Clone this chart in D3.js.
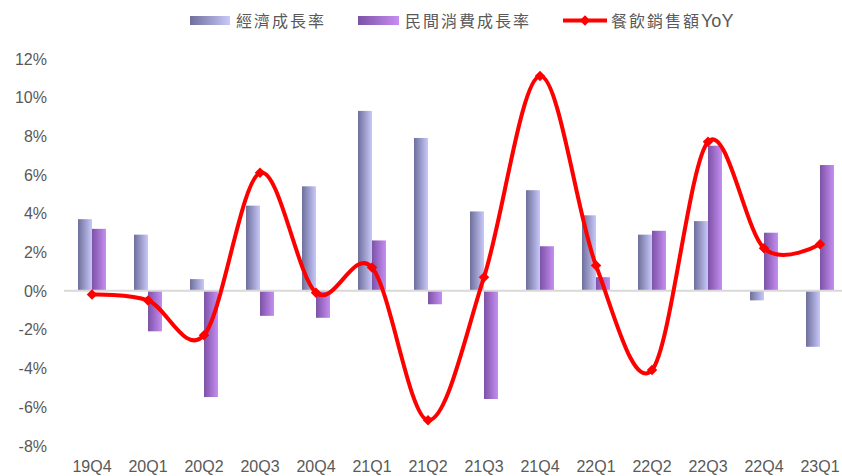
<!DOCTYPE html>
<html>
<head>
<meta charset="utf-8">
<script src="https://cdn.jsdelivr.net/npm/d3@7/dist/d3.min.js"></script>
<style>
  html, body { margin: 0; padding: 0; background: #fff; }
  svg { display: block; }
</style>
</head>
<body>
<svg id="chart" width="842" height="476"></svg>
<script>
// Quarterly growth rates (%)
const quarters = ["19Q4","20Q1","20Q2","20Q3","20Q4","21Q1","21Q2","21Q3","21Q4","22Q1","22Q2","22Q3","22Q4","23Q1"];
const gdpGrowth = [3.7, 2.9, 0.6, 4.4, 5.4, 9.3, 7.9, 4.1, 5.2, 3.9, 2.9, 3.6, -0.5, -2.9];
const consumptionGrowth = [3.2, -2.1, -5.5, -1.3, -1.4, 2.6, -0.7, -5.6, 2.3, 0.7, 3.1, 7.5, 3.0, 6.5];
const restaurantYoY = [-0.2, -0.5, -2.3, 6.1, -0.1, 1.2, -6.7, 0.7, 11.1, 1.3, -4.1, 7.7, 2.2, 2.4];
const yTicks = [-8, -6, -4, -2, 0, 2, 4, 6, 8, 10, 12];
const seriesNames = ["經濟成長率", "民間消費成長率", "餐飲銷售額YoY"];

const svg = d3.select("#chart");
const textColor = "#595959";
const cjkFont = "'Noto Sans CJK TC', 'Noto Sans CJK SC', sans-serif";
const latinFont = "'Liberation Sans', Arial, sans-serif";

// Gradients for the bars (dark left edge, light right edge)
const defs = svg.append("defs");
function gradient(id, from, to) {
  const g = defs.append("linearGradient").attr("id", id)
    .attr("x1", "0%").attr("x2", "100%").attr("y1", "0%").attr("y2", "0%");
  g.append("stop").attr("offset", "0%").attr("stop-color", from);
  g.append("stop").attr("offset", "100%").attr("stop-color", to);
}
gradient("gGdp", "#6f6f9c", "#c8c8fa");
gradient("gCons", "#7c52a6", "#c68ef3");

const x = d3.scaleBand().domain(quarters).range([64, 848])
  .paddingInner(0.5).paddingOuter(0.25);
const xSub = d3.scaleBand().domain([0, 1]).range([0, x.bandwidth()]);
const y = d3.scaleLinear().domain([-8, 12]).range([445.4, 58.7]);

// Y axis labels
const yAxis = d3.axisLeft(y).tickValues(yTicks).tickFormat(d => d + "%").tickSize(0).tickPadding(0);
const yg = svg.append("g").attr("transform", "translate(47,0)").call(yAxis);
yg.select(".domain").remove();
yg.selectAll("text").attr("fill", textColor).attr("font-family", latinFont)
  .attr("font-size", 16).attr("dy", "0.35em");

// Bars
const bars = svg.append("g");
quarters.forEach((q, i) => {
  [[gdpGrowth[i], "url(#gGdp)"], [consumptionGrowth[i], "url(#gCons)"]].forEach(([v, fill], k) => {
    bars.append("rect")
      .attr("x", x(q) + xSub(k))
      .attr("width", xSub.bandwidth())
      .attr("y", Math.min(y(v), y(0)))
      .attr("height", Math.abs(y(v) - y(0)))
      .attr("fill", fill);
  });
});

// Zero line
svg.append("line").attr("x1", 64).attr("x2", 842).attr("y1", y(0)).attr("y2", y(0))
  .attr("stroke", "#d9d9d9").attr("stroke-width", 2);

// X axis labels
const xAxis = d3.axisBottom(x).tickSize(0).tickPadding(0);
const xg = svg.append("g").attr("transform", "translate(0,460)").call(xAxis);
xg.select(".domain").remove();
xg.selectAll("text").attr("fill", textColor).attr("font-family", latinFont)
  .attr("font-size", 16).attr("dy", "0.75em");

// Smoothed line with diamond markers
const cx = q => x(q) + x.bandwidth() / 2;
const line = d3.line().x((d, i) => cx(quarters[i])).y(d => y(d)).curve(d3.curveCardinal.tension(0));
svg.append("path").datum(restaurantYoY).attr("d", line)
  .attr("fill", "none").attr("stroke", "#ff0000").attr("stroke-width", 4)
  .attr("stroke-linejoin", "round");
const diamond = d3.symbol().type(d3.symbolDiamond2).size(70);
svg.append("g").selectAll("path").data(restaurantYoY).join("path")
  .attr("d", diamond)
  .attr("transform", (d, i) => `translate(${cx(quarters[i])},${y(d)})`)
  .attr("fill", "#ff0000");

// Legend
const legend = svg.append("g");
legend.append("rect").attr("x", 190).attr("y", 16).attr("width", 40).attr("height", 9).attr("fill", "url(#gGdp)");
legend.append("rect").attr("x", 358).attr("y", 16).attr("width", 41).attr("height", 9).attr("fill", "url(#gCons)");
legend.append("line").attr("x1", 563).attr("x2", 607).attr("y1", 20.5).attr("y2", 20.5)
  .attr("stroke", "#ff0000").attr("stroke-width", 4);
legend.append("path").attr("d", diamond).attr("transform", "translate(585,20.5)").attr("fill", "#ff0000");
[[236, seriesNames[0]], [405, seriesNames[1]]].forEach(([lx, t]) => {
  legend.append("text").attr("x", lx).attr("y", 26.5).text(t)
    .attr("fill", textColor).attr("font-family", cjkFont).attr("font-size", 16)
    .attr("letter-spacing", 2);
});
const t3 = legend.append("text").attr("x", 611).attr("y", 26.5)
  .attr("fill", textColor).attr("font-size", 16);
t3.append("tspan").attr("font-family", cjkFont).attr("letter-spacing", 2).text(seriesNames[2].slice(0, 5));
t3.append("tspan").attr("font-family", latinFont).attr("font-size", 18).text(seriesNames[2].slice(5));
</script>
</body>
</html>
